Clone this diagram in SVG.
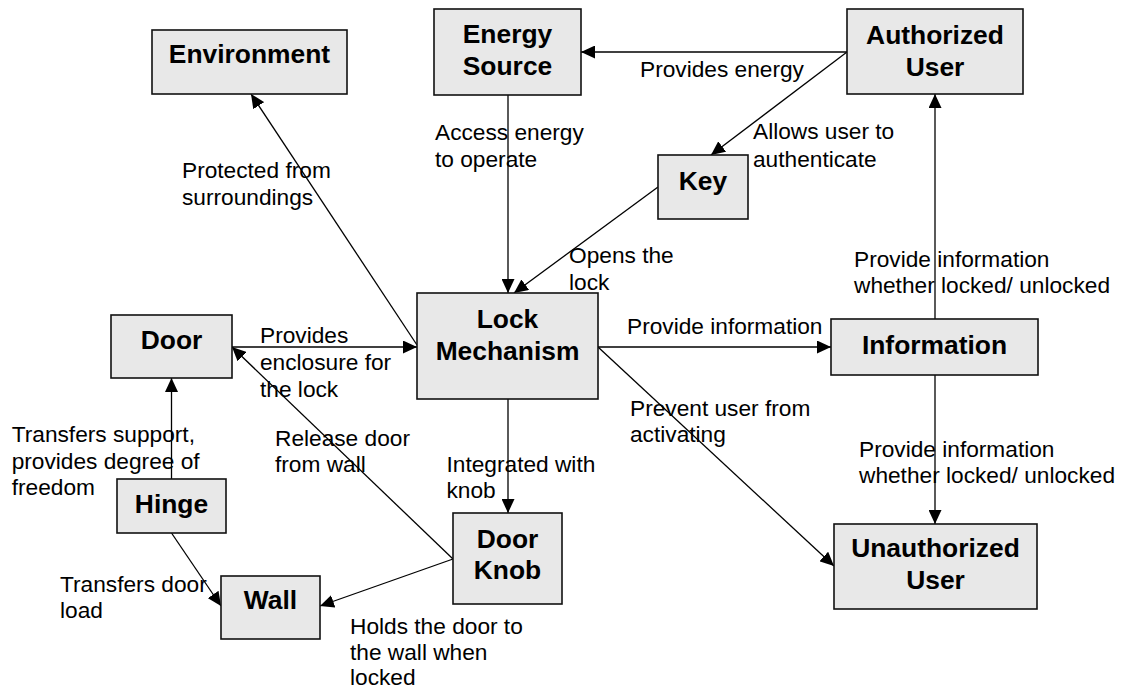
<svg xmlns="http://www.w3.org/2000/svg" width="1123" height="690" viewBox="0 0 1123 690">
  <style>
    .box { fill: #e8e8e8; stroke: #111; stroke-width: 1.6; }
    .nt { font-family: "Liberation Sans", Arial, sans-serif; font-size: 26.4px; font-weight: bold; fill: #000; text-anchor: middle; }
    .lb { font-family: "Liberation Sans", Arial, sans-serif; font-size: 22.7px; fill: #000; }
    .ln { stroke: #000; stroke-width: 1.3; fill: none; marker-end: url(#arr); }
  </style>
  <defs>
    <marker id="arr" viewBox="0 0 14 13" refX="14" refY="6.5" markerWidth="14" markerHeight="13" markerUnits="userSpaceOnUse" orient="auto">
      <path d="M0,0 L14,6.5 L0,13 z" fill="#000"/>
    </marker>
  </defs>
  <rect width="1123" height="690" fill="#fff"/>

  <!-- connectors -->
  <g id="connectors">
    <line class="ln" x1="417" y1="345" x2="251" y2="94"/>
    <line class="ln" x1="508" y1="95" x2="508" y2="293"/>
    <line class="ln" x1="847" y1="52" x2="581" y2="52"/>
    <line class="ln" x1="847" y1="52" x2="711" y2="155"/>
    <line class="ln" x1="658" y1="187" x2="514" y2="293"/>
    <line class="ln" x1="935" y1="319" x2="935" y2="94"/>
    <line class="ln" x1="598" y1="347" x2="831" y2="347"/>
    <line class="ln" x1="935" y1="375" x2="935" y2="524"/>
    <line class="ln" x1="598" y1="347" x2="834" y2="566"/>
    <line class="ln" x1="232" y1="347" x2="417" y2="347"/>
    <line class="ln" x1="453" y1="559" x2="232" y2="347"/>
    <line class="ln" x1="508" y1="399" x2="508" y2="513"/>
    <line class="ln" x1="453" y1="559" x2="320" y2="606"/>
    <line class="ln" x1="171.5" y1="479" x2="171.5" y2="378"/>
    <line class="ln" x1="171.5" y1="533" x2="221" y2="606"/>
  </g>

  <!-- nodes -->
  <g id="environment">
    <rect class="box" x="152" y="30" width="195" height="64"/>
    <text class="nt" x="249.5" y="63">Environment</text>
  </g>
  <g id="energy-source">
    <rect class="box" x="434" y="9" width="147" height="86"/>
    <text class="nt" x="507.5" y="43">Energy</text>
    <text class="nt" x="507.5" y="74.5">Source</text>
  </g>
  <g id="authorized-user">
    <rect class="box" x="847" y="9" width="176" height="85"/>
    <text class="nt" x="935" y="44">Authorized</text>
    <text class="nt" x="935" y="76">User</text>
  </g>
  <g id="key">
    <rect class="box" x="658" y="155" width="90" height="64"/>
    <text class="nt" x="703" y="190">Key</text>
  </g>
  <g id="lock-mechanism">
    <rect class="box" x="417" y="293" width="181" height="106"/>
    <text class="nt" x="507.5" y="327.5">Lock</text>
    <text class="nt" x="507.5" y="359.5">Mechanism</text>
  </g>
  <g id="door">
    <rect class="box" x="111" y="315" width="121" height="63"/>
    <text class="nt" x="171.5" y="349">Door</text>
  </g>
  <g id="hinge">
    <rect class="box" x="117" y="479" width="109" height="54"/>
    <text class="nt" x="171.5" y="512.5">Hinge</text>
  </g>
  <g id="wall">
    <rect class="box" x="221" y="576" width="99" height="63"/>
    <text class="nt" x="270.5" y="608.5">Wall</text>
  </g>
  <g id="door-knob">
    <rect class="box" x="453" y="513" width="109" height="91"/>
    <text class="nt" x="507.5" y="547.5">Door</text>
    <text class="nt" x="507.5" y="579">Knob</text>
  </g>
  <g id="information">
    <rect class="box" x="831" y="319" width="207" height="56"/>
    <text class="nt" x="934.5" y="354">Information</text>
  </g>
  <g id="unauthorized-user">
    <rect class="box" x="834" y="524" width="203" height="85"/>
    <text class="nt" x="935.5" y="557">Unauthorized</text>
    <text class="nt" x="935.5" y="588.5">User</text>
  </g>

  <!-- connector labels -->
  <g id="labels" class="lb">
    <text x="182" y="178">Protected from</text>
    <text x="182" y="204.5">surroundings</text>
    <text x="435" y="140">Access energy</text>
    <text x="435" y="166.7">to operate</text>
    <text x="640" y="76.5">Provides energy</text>
    <text x="753" y="139.3">Allows user to</text>
    <text x="753" y="166.5">authenticate</text>
    <text x="569" y="263.3">Opens the</text>
    <text x="569" y="290">lock</text>
    <text x="854" y="266.7">Provide information</text>
    <text x="854" y="293.3">whether locked/ unlocked</text>
    <text x="627" y="334">Provide information</text>
    <text x="630" y="415.7">Prevent user from</text>
    <text x="630" y="442.3">activating</text>
    <text x="859" y="456.7">Provide information</text>
    <text x="859" y="483.3">whether locked/ unlocked</text>
    <text x="260" y="342.7">Provides</text>
    <text x="260" y="370">enclosure for</text>
    <text x="260" y="396.7">the lock</text>
    <text x="11.7" y="442">Transfers support,</text>
    <text x="11.7" y="468.5">provides degree of</text>
    <text x="11.7" y="495">freedom</text>
    <text x="275" y="445.5">Release door</text>
    <text x="275" y="472">from wall</text>
    <text x="446.5" y="471.5">Integrated with</text>
    <text x="446.5" y="498">knob</text>
    <text x="60" y="591.7">Transfers door</text>
    <text x="60" y="618.3">load</text>
    <text x="350" y="634">Holds the door to</text>
    <text x="350" y="660">the wall when</text>
    <text x="350" y="685">locked</text>
  </g>
</svg>
